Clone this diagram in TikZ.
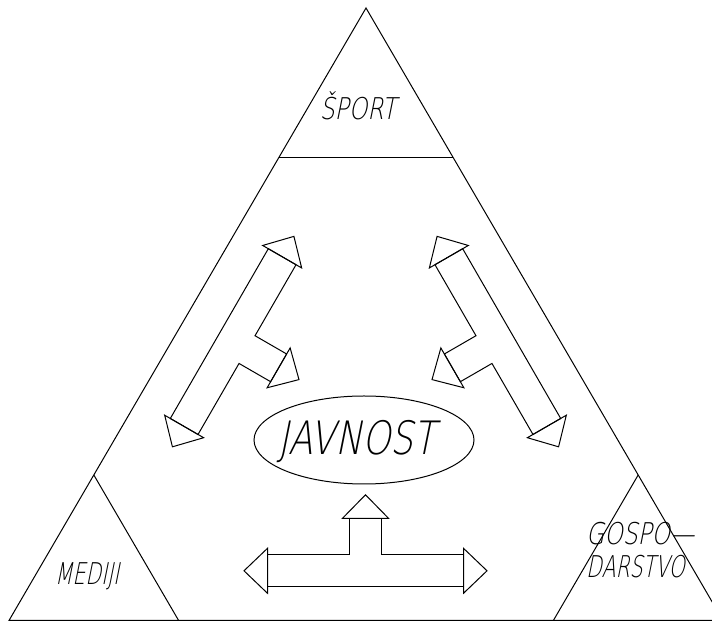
\documentclass[tikz,border=0pt]{standalone}
\usepackage{fontspec}
\usepackage{tikz}
\usetikzlibrary{calc}
\newfontfamily\cadfont[FakeSlant=0.2,FakeStretch=0.78]{DejaVu Sans ExtraLight}
\newfontfamily\cadnarrow[FakeSlant=0.2,FakeStretch=0.68]{DejaVu Sans ExtraLight}
\newcommand*\tagsize{\fontsize{30}{33}\selectfont}
\newcommand*\hubsize{\fontsize{46}{50}\selectfont}
\tikzset{
    frame/.style  = {line width=1pt, line join=miter},
    tag/.style    = {font=\cadfont\tagsize, inner sep=0pt},
    narrowtag/.style = {font=\cadnarrow\tagsize, inner sep=0pt},
    hubtag/.style = {font=\cadfont\hubsize, inner sep=0pt},
    tarrow/.pic   = {
        % shaft with side branch
        \draw[frame] (-98,-16) -- (98,-16) -- (98,16) -- (16,16) -- (16,52.5)
            -- (-16,52.5) -- (-16,16) -- (-98,16) -- cycle;
        % three heads
        \draw[frame] (-98,22.5) -- (-121.5,0) -- (-98,-22.5) -- cycle;
        \draw[frame] (98,22.5) -- (121.5,0) -- (98,-22.5) -- cycle;
        \draw[frame] (-23,52.5) -- (0,76) -- (23,52.5) -- cycle;
    },
}
\begin{document}
\begin{tikzpicture}[x=1pt,y=1pt]
    \useasboundingbox (0,0) rectangle (712,623);
    \clip (0,0) rectangle (712,623);

    % outer triangle and the three corners
    \coordinate (apex) at (366,615);
    \coordinate (bl)   at (9,2.5);
    \coordinate (br)   at (723,2.5);
    \draw[frame] (apex) -- (bl) -- (br) -- cycle;
    \draw[frame] ($(apex)!0.2433!(bl)$) -- ($(apex)!0.2433!(br)$);
    \draw[frame] ($(apex)!0.7624!(bl)$) -- ($(bl)!0.2376!(br)$);
    \draw[frame] ($(apex)!0.7624!(br)$) -- ($(br)!0.2376!(bl)$);

    % corner labels
    \node[tag, anchor=base] (sport)  at (358,503) {ŠPORT};
    \node[narrowtag, anchor=base] (mediji) at (87,38) {MEDIJI};
    \node[tag, anchor=base west, align=left] (gosp) at (586,45)
        {GOSPO—\\\cadnarrow DARSTVO};

    % centre
    \coordinate (ctr) at (365.5,205);
    \draw[frame] (364,183) ellipse [x radius=110, y radius=44];
    \node[hubtag, anchor=base] (javnost) at (357,168) {JAVNOST};

    % the three branched arrows, turned about the centre
    \foreach \ang in {0,120,-120}
        \pic[rotate=\ang] at ($(ctr)+(\ang-90:152.8)$) {tarrow};
\end{tikzpicture}
\end{document}
